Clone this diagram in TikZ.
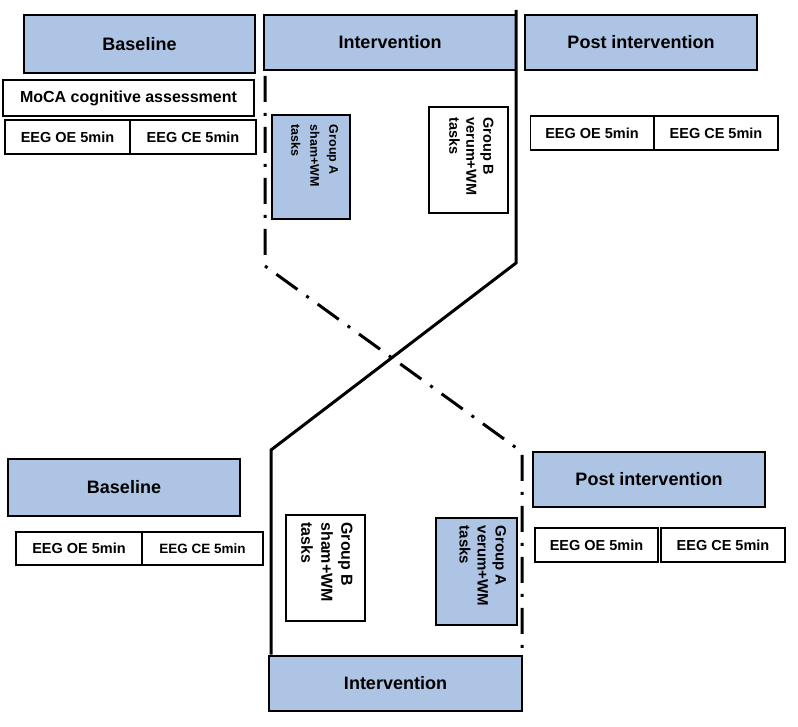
\documentclass[tikz,border=0pt]{standalone}
\usepackage{fontspec}
\setmainfont{Liberation Sans}
\definecolor{boxblue}{RGB}{174,196,229}
\tikzset{
  phase/.style={draw=black, line width=2.6pt, fill=boxblue, inner sep=0pt, font=\bfseries\fontsize{18}{21}\selectfont},
  plain/.style={draw=black, line width=1.6pt, fill=white, inner sep=0pt, font=\bfseries\fontsize{14.5}{16}\selectfont},
  groupbox/.style={draw=black, line width=1.6pt, inner sep=0pt},
  grouptext/.style={rotate=-90, align=left, inner sep=0pt, anchor=north west, font=\bfseries},
  solidline/.style={line width=3pt, line join=miter},
  dashdotline/.style={line width=3pt, dash pattern=on 26pt off 11pt on 3pt off 11pt},
}
\begin{document}
\begin{tikzpicture}[x=1pt,y=-1pt]
\useasboundingbox (0,0) rectangle (798,727);

% ---- top row ----
\node[phase, minimum width=231pt, minimum height=58pt] (baseT) at (139.5,44) {Baseline};
\node[phase, minimum width=252pt, minimum height=55pt] (intT) at (390,42.5) {Intervention};
\node[phase, minimum width=232pt, minimum height=55pt] (postT) at (641,42.5) {Post intervention};

\node[plain, minimum width=251pt, minimum height=36pt, font=\bfseries\fontsize{16}{18}\selectfont] (moca) at (128.5,98) {MoCA cognitive assessment};
\node[plain, minimum width=125pt, minimum height=34pt] (oeT) at (67.5,137) {EEG OE 5min};
\node[plain, minimum width=126pt, minimum height=34pt] (ceT) at (193,137) {EEG CE 5min};

\node[plain, minimum width=123pt, minimum height=34pt] (oeTP) at (592,133) {EEG OE 5min};
\node[plain, minimum width=124pt, minimum height=34pt] (ceTP) at (716,133) {EEG CE 5min};

% group boxes top
\node[groupbox, fill=boxblue, line width=2.8pt, minimum width=78pt, minimum height=104pt] (gAT) at (311,167) {};
\node[grouptext, font=\bfseries\fontsize{12.5}{19}\selectfont] (gATt) at ([xshift=-13pt,yshift=-11pt]gAT.north east) {Group A\\sham+WM\\tasks};
\node[groupbox, fill=white, minimum width=79pt, minimum height=106pt] (gBT) at (468.5,160) {};
\node[grouptext, font=\bfseries\fontsize{14.5}{17}\selectfont] (gBTt) at ([xshift=-15pt,yshift=-11pt]gBT.north east) {Group B\\verum+WM\\tasks};

% ---- bottom row ----
\node[phase, minimum width=232pt, minimum height=57pt] (baseB) at (124,487.5) {Baseline};
\node[plain, minimum width=126pt, minimum height=33pt] (oeB) at (79,548.5) {EEG OE 5min};
\node[plain, minimum width=121pt, minimum height=33pt, font=\bfseries\fontsize{13.5}{15}\selectfont] (ceB) at (202.5,548.5) {EEG CE 5min};

\node[phase, minimum width=232pt, minimum height=55pt] (postB) at (649,479.5) {Post intervention};
\node[plain, minimum width=123pt, minimum height=34pt] (oeBP) at (596.5,545) {EEG OE 5min};
\node[plain, minimum width=124pt, minimum height=34pt] (ceBP) at (723,545) {EEG CE 5min};

\node[phase, minimum width=253pt, minimum height=55pt] (intB) at (395.5,683.5) {Intervention};

\node[groupbox, fill=white, minimum width=79pt, minimum height=106pt] (gBB) at (325.5,568) {};
\node[grouptext, font=\bfseries\fontsize{16}{20}\selectfont] (gBBt) at ([xshift=-13pt,yshift=-8pt]gBB.north east) {Group B\\sham+WM\\tasks};
\node[groupbox, fill=boxblue, line width=2.8pt, minimum width=81pt, minimum height=107pt] (gAB) at (476.5,571.5) {};
\node[grouptext, font=\bfseries\fontsize{15}{18}\selectfont] (gABt) at ([xshift=-12pt,yshift=-9pt]gAB.north east) {Group A\\verum+WM\\tasks};

% ---- connectors ----
\coordinate (s0) at (516,10);
\coordinate (s1) at (516,263);
\coordinate (s2) at (271,450);
\draw[solidline] (s0) -- (s1) -- (s2) -- (s2 |- intB.north);

\coordinate (d0) at (265,76);
\coordinate (d1) at (265,266);
\coordinate (d2) at (522,452);
\draw[dashdotline] (d0) -- (d1) -- (d2) -- (522,654);
\end{tikzpicture}
\end{document}
